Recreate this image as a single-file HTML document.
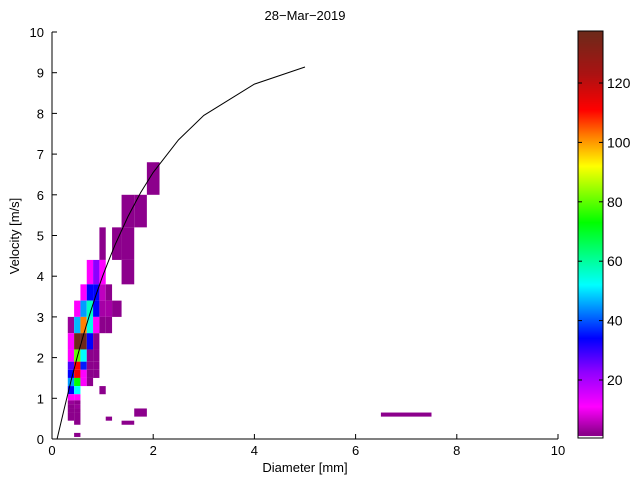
<!DOCTYPE html>
<html><head><meta charset="utf-8"><style>
html,body{margin:0;padding:0;background:#fff}
svg{display:block;font-family:"Liberation Sans",Arial,sans-serif}
</style></head><body>
<svg id="chart" width="640" height="480" viewBox="0 0 640 480">
<rect width="640" height="480" fill="#fff"/>
<text x="305" y="20" text-anchor="middle" font-size="13">28−Mar−2019</text>
<g id="cells"></g>
<g id="curve"></g>
<g id="axes"></g>
<g id="cbar"></g>
<text x="305" y="472" text-anchor="middle" font-size="13">Diameter [mm]</text>
<text transform="translate(19,236) rotate(-90)" text-anchor="middle" font-size="13">Velocity [m/s]</text>
</svg>
<script>
// Cells: [d0, d1, v0, v1, count]
const cells = [
[1.875,2.125,6.0,6.8,1],
[1.375,1.625,5.2,6.0,1],[1.625,1.875,5.2,6.0,1],
[0.937,1.062,4.4,5.2,1],[1.187,1.375,4.4,5.2,1],[1.375,1.625,4.4,5.2,1],
[0.687,0.812,3.8,4.4,11],[0.812,0.937,3.8,4.4,23],[0.937,1.062,3.8,4.4,11],[1.375,1.625,3.8,4.4,1],
[0.562,0.687,3.4,3.8,11],[0.687,0.812,3.4,3.8,34],[0.812,0.937,3.4,3.8,34],[0.937,1.062,3.4,3.8,6],[1.062,1.187,3.4,3.8,1],
[0.437,0.562,3.0,3.4,11],[0.562,0.687,3.0,3.4,45],[0.687,0.812,3.0,3.4,57],[0.812,0.937,3.0,3.4,34],[0.937,1.062,3.0,3.4,4],[1.062,1.187,3.0,3.4,4],[1.187,1.375,3.0,3.4,1],
[0.312,0.437,2.6,3.0,3],[0.437,0.562,2.6,3.0,47],[0.562,0.687,2.6,3.0,102],[0.687,0.812,2.6,3.0,54],[0.812,0.937,2.6,3.0,11],[0.937,1.062,2.6,3.0,1],[1.062,1.187,2.6,3.0,1],
[0.312,0.437,2.2,2.6,11],[0.437,0.562,2.2,2.6,137],[0.562,0.687,2.2,2.6,137],[0.687,0.812,2.2,2.6,34],[0.812,0.937,2.2,2.6,1],
[0.312,0.437,1.9,2.2,11],[0.437,0.562,1.9,2.2,80],[0.562,0.687,1.9,2.2,52],[0.687,0.812,1.9,2.2,1],[0.812,0.937,1.9,2.2,1],
[0.312,0.437,1.7,1.9,28],[0.437,0.562,1.7,1.9,111],[0.562,0.687,1.7,1.9,36],[0.687,0.812,1.7,1.9,1],[0.812,0.937,1.7,1.9,1],
[0.312,0.437,1.5,1.7,34],[0.437,0.562,1.5,1.7,113],[0.562,0.687,1.5,1.7,11],[0.687,0.812,1.5,1.7,1],[0.812,0.937,1.5,1.7,1],
[0.312,0.437,1.3,1.5,45],[0.437,0.562,1.3,1.5,73],[0.562,0.687,1.3,1.5,11],[0.687,0.812,1.3,1.5,1],
[0.312,0.437,1.1,1.3,34],[0.437,0.562,1.1,1.3,52],[0.937,1.062,1.1,1.3,1],
[0.312,0.437,0.95,1.1,11],[0.437,0.562,0.95,1.1,11],
[0.312,0.437,0.85,0.95,3],[0.437,0.562,0.85,0.95,1],
[0.312,0.437,0.75,0.85,1],[0.437,0.562,0.75,0.85,3],
[0.312,0.437,0.65,0.75,1],[0.437,0.562,0.65,0.75,1],[1.625,1.875,0.55,0.75,1],
[0.312,0.437,0.45,0.65,1],[0.437,0.562,0.35,0.65,1],
[1.062,1.187,0.45,0.55,1],[1.375,1.625,0.35,0.45,1],
[0.437,0.562,0.05,0.15,1],
[6.5,7.5,0.55,0.65,1]
];
const curveD = [0.1,0.25,0.375,0.5,0.625,0.75,0.875,1,1.125,1.25,1.5,1.75,2,2.5,3,4,5];
const curveV = [-0.05,0.785,1.425,2.02,2.57,3.08,3.56,4.0,4.40,4.78,5.46,6.05,6.55,7.35,7.95,8.72,9.14];
const xTicks = [0,2,4,6,8,10];
const yTicks = [0,1,2,3,4,5,6,7,8,9,10];
const cbTicks = [20,40,60,80,100,120];

const NS="http://www.w3.org/2000/svg";
const X0=52,X1=558,Y0=439,Y1=32;
const xs=d=>X0+(d/10)*(X1-X0);
const ys=v=>Y0-(v/10)*(Y0-Y1);
const stops=[[2,[140,0,140]],[11,[255,0,255]],[23,[140,0,255]],[34,[0,0,255]],[52,[0,255,255]],[73,[0,255,0]],[92,[255,255,0]],[102,[255,128,0]],[111,[255,0,0]],[123,[170,18,18]],[137.5,[107,42,26]]];
function col(v){
  if(v<=stops[0][0])return 'rgb('+stops[0][1]+')';
  for(let i=1;i<stops.length;i++){if(v<=stops[i][0]){const a=stops[i-1],b=stops[i],t=(v-a[0])/(b[0]-a[0]);
    return 'rgb('+a[1].map((c,k)=>Math.round(c+(b[1][k]-c)*t)).join(',')+')';}}
  return 'rgb('+stops[stops.length-1][1]+')';
}
function mk(tag,attrs,parent){const e=document.createElementNS(NS,tag);for(const k in attrs)e.setAttribute(k,attrs[k]);parent.appendChild(e);return e;}
const gC=document.getElementById('cells');
cells.forEach(c=>{
  const r=mk('rect',{x:xs(c[0]),y:ys(c[3]),width:xs(c[1])-xs(c[0]),height:ys(c[2])-ys(c[3]),fill:col(c[4])},gC);
  
  
});
const gL=document.getElementById('curve');
const pl=mk('polyline',{points:curveD.map((d,i)=>xs(d)+','+ys(Math.max(0,curveV[i]))).join(' '),fill:'none',stroke:'#000','stroke-width':1},gL);


const gA=document.getElementById('axes');
mk('line',{x1:X0,y1:Y0,x2:X1,y2:Y0,stroke:'#000'},gA);
mk('line',{x1:X0,y1:Y0,x2:X0,y2:Y1,stroke:'#000'},gA);
xTicks.forEach(t=>{
  mk('line',{x1:xs(t),y1:Y0,x2:xs(t),y2:Y0-5,stroke:'#000'},gA);
  const tx=mk('text',{x:xs(t),y:Y0+16,'text-anchor':'middle','font-size':13},gA);tx.textContent=t;
  
  
});
yTicks.forEach(t=>{
  mk('line',{x1:X0,y1:ys(t),x2:X0+5,y2:ys(t),stroke:'#000'},gA);
  const tx=mk('text',{x:X0-8,y:ys(t)+5,'text-anchor':'end','font-size':13},gA);tx.textContent=t;
  
  
});
// colorbar
const gB=document.getElementById('cbar');
const CX=578,CW=25,CT=31,CB=438;
const cy=v=>380-(v-20)*2.97;
for(let y=CT;y<CB-2;y++){
  const v=20+(380-(y+0.5))/2.97;
  mk('rect',{x:CX,y:y,width:CW,height:1.05,fill:col(v)},gB);
}
mk('rect',{x:CX,y:CT,width:CW,height:CB-CT,fill:'none',stroke:'#000'},gB);
cbTicks.forEach(t=>{
  mk('line',{x1:CX,y1:cy(t),x2:CX+4,y2:cy(t),stroke:'#000'},gB);
  mk('line',{x1:CX+CW,y1:cy(t),x2:CX+CW-4,y2:cy(t),stroke:'#000'},gB);
  const tx=mk('text',{x:CX+CW+4,y:cy(t)+5,'font-size':14},gB);tx.textContent=t;
  
  
});
</script>
</body></html>
